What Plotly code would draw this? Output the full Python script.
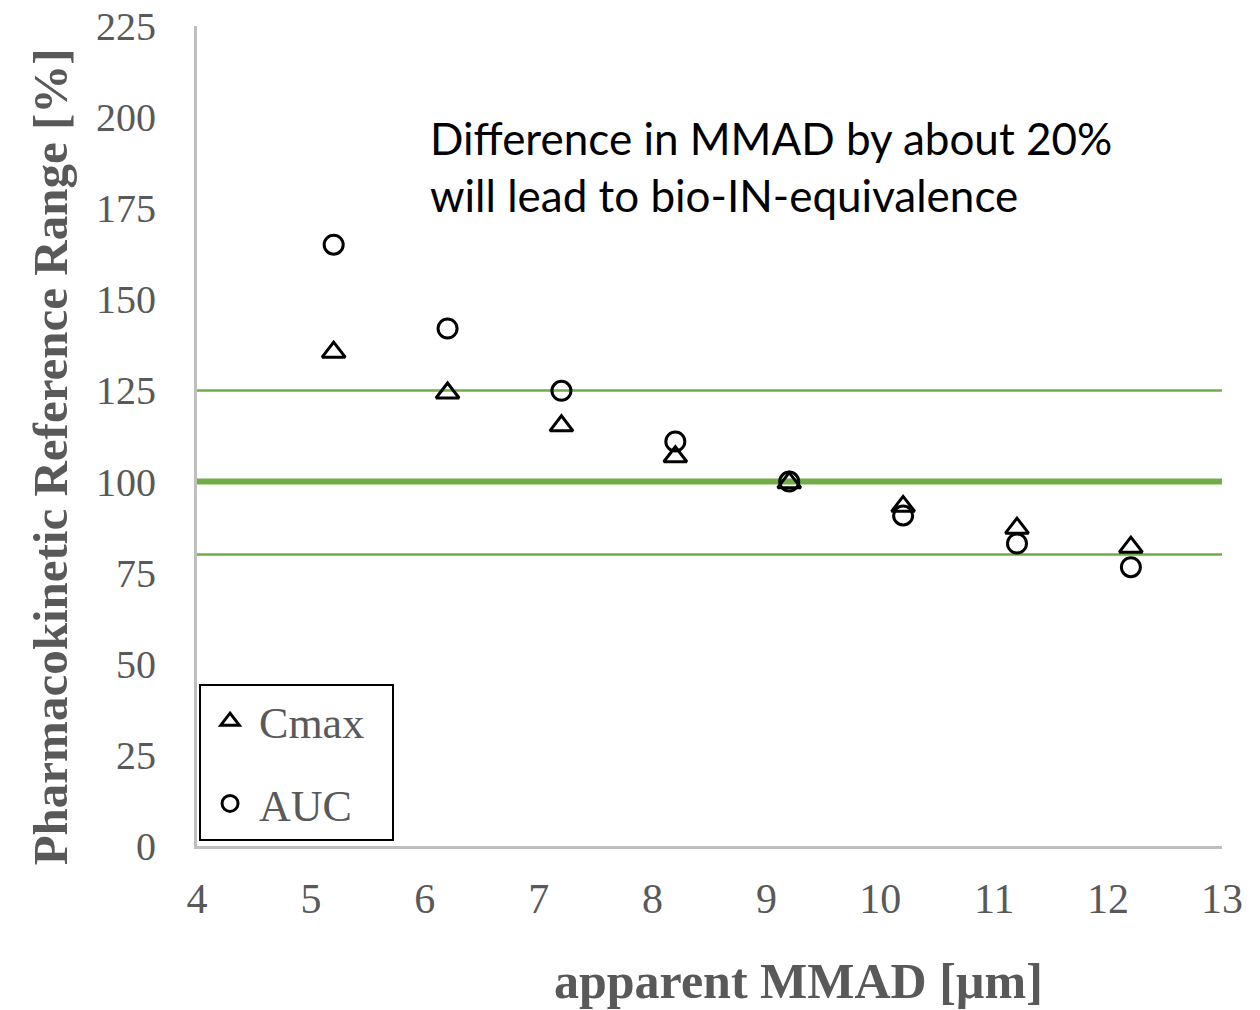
import plotly.graph_objects as go

mmad = [5.2, 6.2, 7.2, 8.2, 9.2, 10.2, 11.2, 12.2]
cmax = [135.5, 124.3, 115.3, 106.8, 99.7, 93.2, 87.2, 82.0]
auc = [165.0, 142.0, 124.9, 111.0, 100.0, 90.7, 83.0, 76.5]
ref_lines = [125, 100, 80]
ref_widths = [2.5, 6, 2.5]
x_range = [4, 13]
y_range = [0, 225]
y_ticks = list(range(0, 226, 25))
x_ticks = list(range(4, 14))

GRAY = "#595959"
GREEN = "#70AD47"
SERIF = "Liberation Serif, Times New Roman, serif"
NB = "\u00a0"

fig = go.Figure()

for yv, w in zip(ref_lines, ref_widths):
    fig.add_trace(go.Scatter(x=x_range, y=[yv, yv], mode="lines",
                             line=dict(color=GREEN, width=w),
                             showlegend=False, hoverinfo="skip"))

fig.add_trace(go.Scatter(x=mmad, y=cmax, mode="markers", name="Cmax" + NB * 2, legendgroup="a",
                         marker=dict(symbol="triangle-up-open", size=20, color="black",
                                     line=dict(width=3, color="black"))))
fig.add_trace(go.Scatter(x=mmad, y=auc, mode="markers", name="AUC", legendgroup="b",
                         marker=dict(symbol="circle-open", size=19, color="black",
                                     line=dict(width=3, color="black"))))

fig.update_layout(
    width=1252, height=1002,
    margin=dict(l=189, r=38, t=18, b=164),
    plot_bgcolor="white", paper_bgcolor="white",
    font=dict(family=SERIF, color=GRAY),
    legend=dict(x=0.002, y=0.006, xanchor="left", yanchor="bottom",
                bordercolor="black", borderwidth=2, bgcolor="white",
                font=dict(family=SERIF, size=44, color=GRAY),
                traceorder="grouped", tracegroupgap=22,
                itemwidth=48),
    annotations=[
        dict(text="Difference in MMAD by about 20%<br>will lead to bio-IN-equivalence",
             xref="paper", yref="paper", x=0.225, y=0.829, xanchor="left", yanchor="middle",
             align="left", showarrow=False,
             font=dict(family="Lato, Carlito, Calibri, sans-serif", size=44, color="black")),
        dict(text="<b>apparent MMAD [µm]</b>", xref="paper", yref="paper",
             x=0.587, y=-0.165, xanchor="center", yanchor="middle", showarrow=False,
             font=dict(family=SERIF, size=50, color=GRAY)),
        dict(text="<b>Pharmacokinetic Reference Range [%]</b>", xref="paper", yref="paper",
             x=-0.1434, y=0.474, xanchor="center", yanchor="middle", showarrow=False,
             textangle=-90, font=dict(family=SERIF, size=49, color=GRAY)),
    ],
)

fig.update_xaxes(range=x_range, tickvals=x_ticks, showgrid=False, zeroline=False,
                 showline=True, linecolor="#bfbfbf", linewidth=3, ticks="",
                 ticklabelstandoff=14, automargin=False, ticklabeloverflow="allow",
                 tickfont=dict(family=SERIF, size=42, color=GRAY))
fig.update_yaxes(range=y_range, tickvals=y_ticks, showgrid=False, zeroline=False,
                 showline=True, linecolor="#bfbfbf", linewidth=3, ticks="",
                 ticklabelstandoff=30, automargin=False, ticklabeloverflow="allow",
                 tickfont=dict(family=SERIF, size=40, color=GRAY))

fig.write_html("out.html")
